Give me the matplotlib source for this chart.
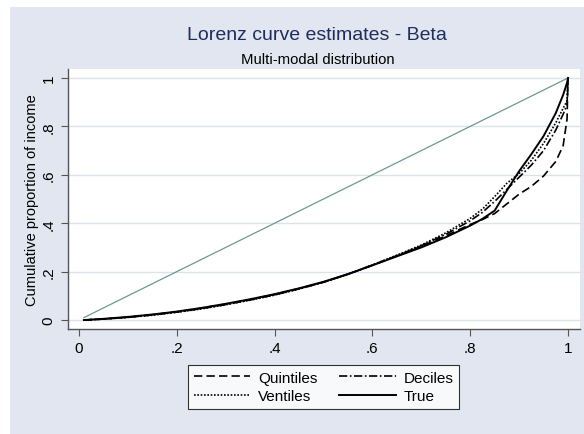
import matplotlib
matplotlib.use("Agg")
import matplotlib.pyplot as plt
import matplotlib.patches as mpatches

plt.rcParams["font.family"] = ["Liberation Sans", "DejaVu Sans"]

# ---------------------------------------------------------------------------
# Data
# ---------------------------------------------------------------------------
p = [0.01, 0.05, 0.10, 0.15, 0.20, 0.25, 0.30, 0.35, 0.40, 0.45, 0.50,
     0.55, 0.60, 0.65, 0.70, 0.75, 0.80, 0.825, 0.85, 0.875, 0.90,
     0.925, 0.95, 0.975, 0.99, 0.998, 1.0]

true_L = [0.000, 0.005, 0.013, 0.023, 0.035, 0.050, 0.067, 0.086, 0.107,
          0.131, 0.158, 0.190, 0.226, 0.263, 0.300, 0.342, 0.390, 0.418,
          0.452, 0.535, 0.615, 0.685, 0.760, 0.855, 0.930, 0.980, 1.000]

quintiles = [0.000, 0.004, 0.012, 0.022, 0.034, 0.049, 0.066, 0.085, 0.106,
             0.130, 0.157, 0.189, 0.226, 0.265, 0.304, 0.348, 0.395, 0.415,
             0.440, 0.480, 0.520, 0.552, 0.595, 0.655, 0.720, 0.830, 1.000]

deciles = [0.000, 0.004, 0.011, 0.021, 0.033, 0.047, 0.064, 0.083, 0.104,
           0.129, 0.156, 0.189, 0.227, 0.266, 0.307, 0.354, 0.410, 0.445,
           0.490, 0.540, 0.590, 0.640, 0.700, 0.785, 0.850, 0.890, 1.000]

ventiles = [0.000, 0.004, 0.011, 0.020, 0.032, 0.046, 0.063, 0.082, 0.103,
            0.128, 0.156, 0.190, 0.228, 0.268, 0.310, 0.360, 0.420, 0.458,
            0.510, 0.565, 0.605, 0.660, 0.730, 0.815, 0.875, 0.905, 1.000]

equality = [0.01, 1.0]

xticks = [0, 0.2, 0.4, 0.6, 0.8, 1.0]
xticklabels = ["0", ".2", ".4", ".6", ".8", "1"]
yticks = [0, 0.2, 0.4, 0.6, 0.8, 1.0]
yticklabels = ["0", ".2", ".4", ".6", ".8", "1"]

# ---------------------------------------------------------------------------
# Figure
# ---------------------------------------------------------------------------
BG = "#E1E6F0"
GRID = "#DCE2EC"
NAVY = "#1E2D5C"

fig = plt.figure(figsize=(5.84, 4.35), dpi=100)
fig.patch.set_facecolor("white")
fig.patches.append(mpatches.Rectangle(
    (10 / 584, 0), 1 - 10 / 584, 1 - 8 / 435,
    transform=fig.transFigure, facecolor=BG, edgecolor="none", zorder=-5))

ax = fig.add_axes([68 / 584, 1 - 330 / 435, 512 / 584, 260 / 435])
ax.set_zorder(2)
ax.set_facecolor("white")

ax.plot(equality, equality, color="#6B9B8A", lw=0.9, zorder=2)
ax.plot(p, quintiles, color="black", lw=1.2, ls=(0, (5, 2.5)), label="Quintiles", zorder=3)
ax.plot(p, deciles, color="black", lw=1.2, ls=(0, (5, 1.5, 1, 1.5)), label="Deciles", zorder=3)
ax.plot(p, ventiles, color="black", lw=1.2, ls=(0, (1, 1)), label="Ventiles", zorder=3)
ax.plot(p, true_L, color="black", lw=1.4, ls="-", label="True", zorder=3)

ax.set_xlim(-0.0225, 1.0245)
ax.set_ylim(-0.037, 1.037)
ax.set_xticks(xticks)
ax.set_xticklabels(xticklabels, fontsize=11)
ax.set_yticks(yticks)
ax.set_yticklabels(yticklabels, fontsize=11, rotation=90, va="center")
ax.tick_params(direction="out", length=5, width=0.8, color="#555555", pad=4)

ax.grid(axis="y", color=GRID, lw=1.0)
ax.set_axisbelow(True)
for side in ["top", "right"]:
    ax.spines[side].set_visible(False)
for side in ["left", "bottom"]:
    ax.spines[side].set_color("#555555")
    ax.spines[side].set_linewidth(1.0)

ax.set_ylabel("Cumulative proportion of income", fontsize=10.5, labelpad=2)

fig.text(0.543, 1 - 35 / 435, "Lorenz curve estimates - Beta",
         ha="center", va="center", fontsize=14, color=NAVY)
fig.text(0.545, 1 - 60 / 435, "Multi-modal distribution",
         ha="center", va="center", fontsize=10.7, color="black")

handles, labels = ax.get_legend_handles_labels()
leg = fig.legend([handles[0], handles[2], handles[1], handles[3]],
                 ["Quintiles", "Ventiles", "Deciles", "True"],
                 ncol=2, loc="center", bbox_to_anchor=(323.5 / 584, 1 - 388 / 435),
                 fontsize=11, frameon=True, fancybox=False, handlelength=3.7,
                 columnspacing=1.45, handletextpad=0.5, borderpad=0.4,
                 labelspacing=0.3)
leg.get_frame().set_edgecolor("black")
leg.get_frame().set_linewidth(0.8)
leg.get_frame().set_facecolor("white")

fig.savefig("out.png", dpi=100, facecolor=fig.get_facecolor())
